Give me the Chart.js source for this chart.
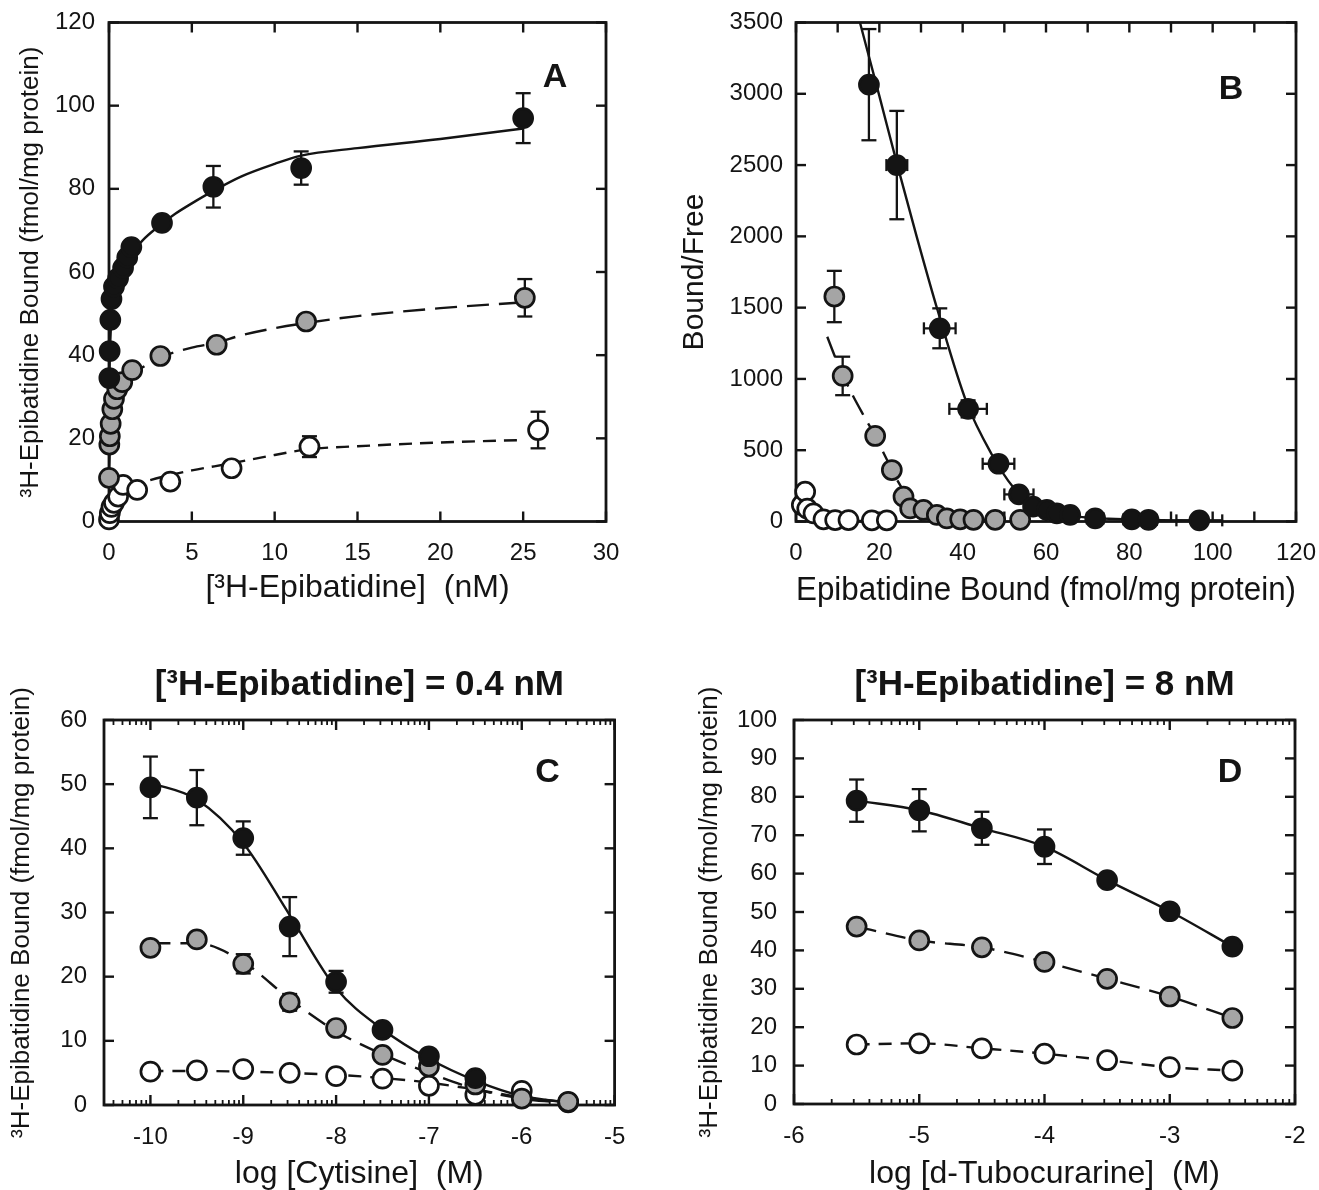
<!DOCTYPE html>
<html><head><meta charset="utf-8">
<script src="https://cdn.jsdelivr.net/npm/chart.js@4.4.1/dist/chart.umd.min.js"></script>
<style>
html,body{margin:0;padding:0;background:#fff;overflow:hidden;width:1319px;height:1190px;}
.panel{position:absolute;}
</style></head><body>
<div class="panel" style="left:0;top:0;width:640px;height:620px"><canvas id="cA"></canvas></div>
<div class="panel" style="left:660px;top:0;width:659px;height:620px"><canvas id="cB"></canvas></div>
<div class="panel" style="left:0;top:630px;width:650px;height:560px"><canvas id="cC"></canvas></div>
<div class="panel" style="left:660px;top:630px;width:659px;height:560px"><canvas id="cD"></canvas></div>
<script>
// ---------------- Panel A : saturation ----------------
const aXTicks = [0, 5, 10, 15, 20, 25, 30];
const aYTicks = [0, 20, 40, 60, 80, 100, 120];
const aBlackX = [0.02, 0.04, 0.08, 0.15, 0.3, 0.55, 0.85, 1.1, 1.35, 3.2, 6.3, 11.6, 25];
const aBlackY = [34.5, 41, 48.5, 53.5, 56.5, 58.5, 61, 63.5, 66, 71.8, 80.5, 85, 97];
const aBlackErr = [0, 0, 0, 0, 0, 0, 0, 0, 0, 0, 5, 4, 6];
const aGrayX = [0.0, 0.02, 0.05, 0.1, 0.2, 0.3, 0.5, 0.8, 1.4, 3.1, 6.5, 11.9, 25.1];
const aGrayY = [10.5, 18.5, 20.5, 23.5, 27, 29.5, 31.8, 33.5, 36.4, 39.8, 42.5, 48.1, 53.8];
const aGrayErr = [0, 0, 0, 0, 0, 0, 0, 0, 0, 0, 1.5, 1.5, 4.5];
const aOpenX = [0.0, 0.05, 0.15, 0.3, 0.55, 0.85, 1.7, 3.7, 7.4, 12.1, 25.9];
const aOpenY = [0.5, 2, 3.5, 4.5, 6, 8.8, 7.6, 9.6, 12.8, 18, 22];
const aOpenErr = [0, 0, 0, 0, 0, 0, 0, 0, 0, 2.5, 4.4];
const aBlackFitX = [0, 0.05, 0.2, 0.5, 1, 1.5, 2, 3, 4, 5, 6.3, 8, 10, 11.6, 15, 20, 25];
const aBlackFitY = [30, 40, 52, 57.5, 62, 65, 67.5, 71, 74, 76.5, 79.5, 83, 86, 88, 89.8, 92, 94.5];
const aGrayFitX = [0, 0.1, 0.3, 0.6, 1, 1.5, 2, 3.1, 5, 6.5, 8, 10, 12, 15, 20, 25];
const aGrayFitY = [12, 22, 28, 31.5, 33.8, 35.6, 37, 39.5, 41.8, 43, 44.8, 46.5, 47.8, 49.4, 51.3, 52.7];
const aOpenFitX = [0, 0.2, 0.5, 1, 2, 3.7, 5, 7.4, 10, 12.1, 15, 20, 25];
const aOpenFitY = [0, 3, 5.5, 7.5, 9.3, 11.2, 12.3, 14, 16, 17.4, 18.1, 19, 19.6];

// ---------------- Panel B : Scatchard ----------------
const bXTicks = [0, 10, 20, 30, 40, 50, 60, 70, 80, 90, 100, 110, 120];
const bYTicks = [0, 500, 1000, 1500, 2000, 2500, 3000, 3500];
const bBlackX = [17.5, 24.2, 34.5, 41.3, 48.6, 53.5, 56.9, 60.2, 62.6, 65.8, 71.8, 80.6, 84.6, 96.8];
const bBlackY = [3064, 2500, 1355, 790, 405, 190, 104, 81, 57, 46, 22, 15, 12, 8];
const bBlackErrY = [390, 380, 140, 60, 0, 0, 0, 0, 0, 0, 0, 0, 0, 0];
const bBlackErrX = [0, 2.5, 3.8, 4.5, 3.8, 3.5, 2, 0, 0, 0, 2, 2, 2, 5.5];
const bGrayX = [9.2, 11.2, 19.0, 23.0, 25.8, 27.4, 30.6, 33.8, 36.2, 39.4, 42.6, 47.8, 53.8];
const bGrayY = [1578, 1021, 600, 361, 174, 92, 81, 46, 22, 15, 12, 12, 12];
const bGrayErrY = [180, 135, 0, 0, 0, 0, 0, 0, 0, 0, 0, 0, 0];
const bOpenX = [1.4, 2.2, 2.7, 4.2, 6.6, 9.4, 12.6, 18.2, 21.8];
const bOpenY = [116, 209, 90, 57, 15, 10, 10, 8, 8];
const bBlackFitX = [15.35, 20, 24.5, 29, 34, 41, 47, 52, 57, 65, 75, 102.5];
const bBlackFitY = [3500, 2985, 2480, 1995, 1480, 830, 470, 245, 110, 45, 19, 5];
const bGrayFitX = [7.5, 10, 13, 16.3, 19, 21.2, 25.1, 29, 35.9, 45.7, 55.5];
const bGrayFitY = [1296, 1110, 920, 740, 600, 470, 250, 115, 46, 11, 5];
const bOpenFitX = [1, 2, 3, 5, 8, 22];
const bOpenFitY = [150, 80, 40, 15, 6, 3];

// ---------------- Panel C : cytisine ----------------
const cXTicks = [-10, -9, -8, -7, -6, -5];
const cYTicks = [0, 10, 20, 30, 40, 50, 60];
const cX = [-10, -9.5, -9, -8.5, -8, -7.5, -7, -6.5, -6, -5.5];
const cBlackY = [49.5, 47.9, 41.6, 27.8, 19.2, 11.7, 7.6, 4.2];
const cBlackErr = [4.8, 4.3, 2.6, 4.6, 1.7, 0.8, 0.8, 0.5];
const cGrayY = [24.5, 25.8, 22, 16, 12, 7.8, 6, 3.2, 1.0, 0.5];
const cGrayErr = [0.5, 1.0, 1.5, 1.3, 1.0, 0.8, 0.5, 0.5, 0, 0];
const cOpenY = [5.2, 5.4, 5.6, 5.0, 4.5, 4.1, 3.0, 1.6, 2.2, 0.4];
const cBlackFitY = [50.2, 47.6, 40.8, 29.6, 18.2, 11.8, 7.2, 3.8, 1.4, 0.4];
const cGrayFitY = [25.2, 25.2, 22.3, 16.5, 11.5, 7.9, 5, 2.5, 1, 0.3];
const cOpenFitY = [5.3, 5.3, 5.2, 5.0, 4.7, 4.2, 3.5, 2.4, 1.2, 0.4];

// ---------------- Panel D : d-tubocurarine ----------------
const dXTicks = [-6, -5, -4, -3, -2];
const dYTicks = [0, 10, 20, 30, 40, 50, 60, 70, 80, 90, 100];
const dX = [-5.5, -5, -4.5, -4, -3.5, -3, -2.5];
const dBlackY = [79, 76.5, 71.8, 67, 58.3, 50.2, 41];
const dBlackErr = [5.5, 5.5, 4.3, 4.5, 1.5, 1.5, 0.5];
const dGrayY = [46.2, 42.6, 40.8, 37, 32.6, 28, 22.4];
const dOpenY = [15.5, 15.8, 14.5, 13.1, 11.4, 9.6, 8.7];

// ---------------- styling helpers ----------------
const INK = '#141414';
const GRAY = '#a5a5a5';
const FONT = "'Liberation Sans', Arial, Helvetica, sans-serif";
Chart.defaults.font.family = FONT;
Chart.defaults.color = INK;

const pts = (xs, ys) => ys.map((y, i) => ({x: xs[i], y}));
function markers(xs, ys, fill, order, errY, errX) {
  return {data: pts(xs, ys), showLine: false, pointRadius: 9.5, pointHoverRadius: 9.5,
    pointBackgroundColor: fill, pointBorderColor: INK, pointBorderWidth: 2.7,
    backgroundColor: fill, borderColor: INK, order, clip: false, errY, errX};
}
function curve(xs, ys, dash) {
  return {data: pts(xs, ys), showLine: true, pointRadius: 0, pointHoverRadius: 0,
    borderColor: INK, borderWidth: 2.4, borderDash: dash, tension: 0.4,
    cubicInterpolationMode: 'monotone', order: 10, clip: false, fill: false};
}

const framePlugin = {
  id: 'frame',
  beforeDatasetsDraw(chart, args, opts) {
    const {ctx, chartArea: a} = chart;
    const xs = chart.scales.x, ys = chart.scales.y;
    ctx.save();
    ctx.strokeStyle = INK;
    const vline = (x, y1, y2) => { ctx.beginPath(); ctx.moveTo(x, y1); ctx.lineTo(x, y2); ctx.stroke(); };
    const hline = (y, x1, x2) => { ctx.beginPath(); ctx.moveTo(x1, y); ctx.lineTo(x2, y); ctx.stroke(); };
    ctx.lineWidth = 2.8;
    ctx.strokeRect(a.left, a.top, a.right - a.left, a.bottom - a.top);
    ctx.lineWidth = 2.4;
    const MAJ = 10, MIN = 5;
    xs.ticks.forEach(t => { const p = xs.getPixelForValue(t.value); vline(p, a.bottom, a.bottom - MAJ); vline(p, a.top, a.top + MAJ); });
    ys.ticks.forEach(t => { const p = ys.getPixelForValue(t.value); hline(p, a.left, a.left + MAJ); hline(p, a.right, a.right - MAJ); });
    if (opts.minorLog) {
      ctx.lineWidth = 1.8;
      for (let n = Math.floor(xs.min); n < xs.max; n++) {
        for (let k = 2; k <= 9; k++) {
          const v = n + Math.log10(k);
          if (v <= xs.min || v >= xs.max) continue;
          const p = xs.getPixelForValue(v);
          vline(p, a.bottom, a.bottom - MIN); vline(p, a.top, a.top + MIN);
        }
      }
    }
    ctx.lineWidth = 2.3;
    chart.data.datasets.forEach(ds => {
      ds.data.forEach((d, j) => {
        const px = xs.getPixelForValue(d.x), py = ys.getPixelForValue(d.y);
        const ey = ds.errY && ds.errY[j];
        if (ey) {
          const y1 = ys.getPixelForValue(d.y + ey), y2 = ys.getPixelForValue(d.y - ey);
          vline(px, y1, y2); hline(y1, px - 7.5, px + 7.5); hline(y2, px - 7.5, px + 7.5);
        }
        const ex = ds.errX && ds.errX[j];
        if (ex) {
          const x1 = xs.getPixelForValue(d.x - ex), x2 = xs.getPixelForValue(d.x + ex);
          hline(py, x1, x2); vline(x1, py - 6, py + 6); vline(x2, py - 6, py + 6);
        }
      });
    });
    ctx.restore();
  },
  afterDraw(chart, args, opts) {
    if (!opts.letter) return;
    const {ctx, chartArea: a} = chart;
    ctx.save();
    ctx.fillStyle = INK;
    ctx.font = 'bold 34px ' + FONT;
    ctx.textAlign = 'center';
    ctx.textBaseline = 'middle';
    ctx.fillText(opts.letter, a.right - opts.dx, a.top + opts.dy);
    ctx.restore();
  }
};

function panel(id, o) {
  return new Chart(document.getElementById(id), {
    type: 'scatter',
    data: {datasets: o.datasets},
    options: {
      responsive: true, maintainAspectRatio: false, animation: false, devicePixelRatio: 1, events: [],
      layout: {padding: o.padding},
      plugins: {
        legend: {display: false}, tooltip: {enabled: false},
        title: o.title ? {display: true, text: o.title, fullSize: false, color: INK,
          font: {size: 35, weight: 'bold', family: FONT}, padding: {top: 34, bottom: 14}} : {display: false},
        frame: {letter: o.letter, dx: o.letterDx, dy: o.letterDy, minorLog: o.minorLog}
      },
      scales: {
        x: {type: 'linear', min: o.xMin, max: o.xMax,
          grid: {display: false, drawTicks: false}, border: {display: false},
          afterBuildTicks: s => { s.ticks = o.xTicks.map(v => ({value: v})); },
          afterFit: s => { s.height = o.xAxisH; s.paddingLeft = 0; s.paddingRight = 0; },
          ticks: {padding: o.xTickPad, font: {size: 24}, color: INK, maxRotation: 0, autoSkip: false,
            callback: o.xLabel || (v => String(v))},
          title: {display: true, text: o.xTitle, color: INK, font: {size: o.xTitleSize || 32, lineHeight: 1},
            padding: {top: 0, bottom: o.xTitlePadB}}},
        y: {type: 'linear', min: o.yMin, max: o.yMax,
          grid: {display: false, drawTicks: false}, border: {display: false},
          afterBuildTicks: s => { s.ticks = o.yTicks.map(v => ({value: v})); },
          afterFit: s => { s.width = o.yAxisW; s.paddingTop = 0; s.paddingBottom = 0; },
          ticks: {padding: o.yTickPad, font: {size: 24}, color: INK, autoSkip: false,
            callback: v => String(v)},
          title: {display: true, text: o.yTitle, color: INK, font: {size: o.yTitleSize || 26},
            padding: {top: o.yTitlePadT, bottom: 0}}}
      }
    },
    plugins: [framePlugin]
  });
}

const yBoundTitle = '\u00B3H-Epibatidine Bound (fmol/mg protein)';

panel('cA', {
  datasets: [
    curve(aBlackFitX, aBlackFitY, []),
    curve(aGrayFitX, aGrayFitY, [22, 10]),
    curve(aOpenFitX, aOpenFitY, [13, 8]),
    markers(aOpenX, aOpenY, '#ffffff', 3, aOpenErr),
    markers(aGrayX, aGrayY, GRAY, 2, aGrayErr),
    markers(aBlackX, aBlackY, INK, 1, aBlackErr)
  ],
  padding: {top: 22.5, right: 34, left: 0, bottom: 0},
  xMin: 0, xMax: 30, yMin: 0, yMax: 120, xTicks: aXTicks, yTicks: aYTicks,
  xAxisH: 98.5, yAxisW: 109, xTickPad: 17, yTickPad: 14,
  xTitle: '[\u00B3H-Epibatidine]  (nM)', xTitlePadB: 16,
  yTitle: yBoundTitle, yTitlePadT: 15.4,
  letter: 'A', letterDx: 51, letterDy: 55
});

panel('cB', {
  datasets: [
    curve(bBlackFitX, bBlackFitY, []),
    curve(bGrayFitX, bGrayFitY, [22, 10]),
    curve(bOpenFitX, bOpenFitY, [13, 8]),
    markers(bOpenX, bOpenY, '#ffffff', 3),
    markers(bGrayX, bGrayY, GRAY, 2, bGrayErrY),
    markers(bBlackX, bBlackY, INK, 1, bBlackErrY, bBlackErrX)
  ],
  padding: {top: 22.5, right: 23, left: 0, bottom: 0},
  xMin: 0, xMax: 120, yMin: 0, yMax: 3500, xTicks: bXTicks, yTicks: bYTicks,
  xLabel: v => (v % 20 === 0 ? String(v) : ''),
  xAxisH: 98.5, yAxisW: 136, xTickPad: 17, yTickPad: 13,
  xTitle: 'Epibatidine Bound (fmol/mg protein)', xTitlePadB: 13, xTitleSize: 33,
  yTitle: 'Bound/Free', yTitlePadT: 17, yTitleSize: 30,
  letter: 'B', letterDx: 65, letterDy: 67
});

panel('cC', {
  datasets: [
    curve(cX, cBlackFitY, []),
    curve(cX, cGrayFitY, [20, 10]),
    curve(cX, cOpenFitY, [13, 9]),
    markers(cX, cOpenY, '#ffffff', 3),
    markers(cX, cGrayY, GRAY, 2, cGrayErr),
    markers(cX, cBlackY, INK, 1, cBlackErr)
  ],
  title: '[\u00B3H-Epibatidine] = 0.4 nM',
  padding: {top: 0, right: 35.4, left: 0, bottom: 0},
  xMin: -10.5, xMax: -5, yMin: 0, yMax: 60, xTicks: cXTicks, yTicks: cYTicks,
  xAxisH: 85, yAxisW: 104, xTickPad: 18, yTickPad: 17,
  xTitle: 'log [Cytisine]  (M)', xTitlePadB: 0,
  yTitle: yBoundTitle, yTitlePadT: 6.4,
  letter: 'C', letterDx: 67, letterDy: 53, minorLog: true
});

panel('cD', {
  datasets: [
    curve(dX, dBlackY, []),
    curve(dX, dGrayY, [20, 10]),
    curve(dX, dOpenY, [13, 9]),
    markers(dX, dOpenY, '#ffffff', 3),
    markers(dX, dGrayY, GRAY, 2),
    markers(dX, dBlackY, INK, 1, dBlackErr)
  ],
  title: '[\u00B3H-Epibatidine] = 8 nM',
  padding: {top: 0, right: 24, left: 0, bottom: 0},
  xMin: -6, xMax: -2, yMin: 0, yMax: 100, xTicks: dXTicks, yTicks: dYTicks,
  xAxisH: 86, yAxisW: 134, xTickPad: 18, yTickPad: 17,
  xTitle: 'log [d-Tubocurarine]  (M)', xTitlePadB: 0,
  yTitle: yBoundTitle, yTitlePadT: 34.4,
  letter: 'D', letterDx: 65, letterDy: 53, minorLog: true
});
</script>
</body></html>
